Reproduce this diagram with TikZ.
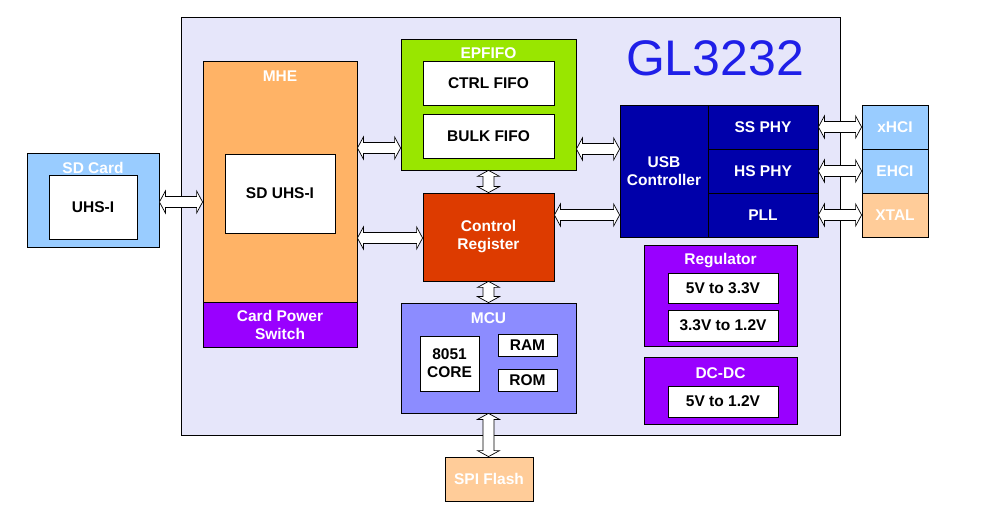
\documentclass[tikz,border=0pt]{standalone}
\usepackage{fontspec}
\setmainfont{Liberation Sans}
\usetikzlibrary{calc}
\definecolor{GLChip}{HTML}{E6E6FA}
\definecolor{GLSky}{HTML}{99CCFF}
\definecolor{GLOrange}{HTML}{FFB366}
\definecolor{GLPurple}{HTML}{9900FF}
\definecolor{GLGreen}{HTML}{99E600}
\definecolor{GLRed}{HTML}{DD3B00}
\definecolor{GLPeri}{HTML}{8C8CFF}
\definecolor{GLNavy}{HTML}{0000AA}
\definecolor{GLPeach}{HTML}{FFCC99}
\definecolor{GLInk}{HTML}{1F1FE8}
\tikzset{
  box/.style={draw=black,line width=0.8pt,inner sep=0pt,align=center,
              font=\fontsize{15.5}{18}\selectfont\bfseries},
  whitebox/.style={box,fill=white,text=black},
  colbox/.style={box,text=white},
  head/.style={text=white,inner sep=0pt,font=\fontsize{15.5}{18}\selectfont\bfseries},
  bus/.style={draw=black,fill=white,line width=0.7pt,line join=miter},
}
% double block arrows between anchors
\newcommand\hbus[2]{\path[bus] let \p1=(#1),\p2=(#2) in
  (\x1,\y1)--(\x1+6pt,\y1+11pt)--(\x1+6pt,\y1+5.5pt)--(\x2-6pt,\y1+5.5pt)--(\x2-6pt,\y1+11pt)
  --(\x2,\y1)--(\x2-6pt,\y1-11pt)--(\x2-6pt,\y1-5.5pt)--(\x1+6pt,\y1-5.5pt)--(\x1+6pt,\y1-11pt)--cycle;}
\newcommand\vbus[2]{\path[bus] let \p1=(#1),\p2=(#2) in
  (\x1,\y1)--(\x1+11pt,\y1-6pt)--(\x1+5.5pt,\y1-6pt)--(\x1+5.5pt,\y2+6pt)--(\x1+11pt,\y2+6pt)
  --(\x1,\y2)--(\x1-11pt,\y2+6pt)--(\x1-5.5pt,\y2+6pt)--(\x1-5.5pt,\y1-6pt)--(\x1-11pt,\y1-6pt)--cycle;}

\begin{document}
\begin{tikzpicture}[x=1pt,y=-1pt]
  \useasboundingbox (0,0) rectangle (982,510);
  \node[box,fill=GLChip,minimum width=659,minimum height=418] (chip) at (510.5,226) {};
  \node[text=GLInk,inner sep=0pt,font=\fontsize{50}{50}\selectfont] (name) at (715,58) {GL3232};

  \node[box,fill=GLSky,minimum width=132,minimum height=94] (sdcard) at (93,200) {};
  \node[head] (sdhead) at (93,168) {SD Card};
  \node[whitebox,minimum width=88,minimum height=64] (uhs) at (93,207) {UHS-I};

  \node[box,fill=GLOrange,minimum width=154,minimum height=241] (mhe) at (280,181.5) {};
  \node[head] (mhehead) at (280,76) {MHE};
  \node[whitebox,minimum width=110,minimum height=79] (sduhs) at (280,193.5) {SD UHS-I};
  \node[colbox,fill=GLPurple,minimum width=154,minimum height=45] (cps) at (280,324.5) {Card Power\\Switch};

  \node[box,fill=GLGreen,minimum width=175,minimum height=131] (epfifo) at (488.5,104.5) {};
  \node[head] (ephead) at (488.5,53) {EPFIFO};
  \node[whitebox,minimum width=131,minimum height=44] (ctrl) at (488.5,83) {CTRL FIFO};
  \node[whitebox,minimum width=131,minimum height=44] (bulk) at (488.5,136) {BULK FIFO};

  \node[colbox,fill=GLRed,minimum width=131,minimum height=88] (creg) at (488.5,237) {Control\\Register};

  \node[box,fill=GLPeri,minimum width=175,minimum height=110] (mcu) at (488.5,358) {};
  \node[head] (mcuhead) at (488.5,318) {MCU};
  \node[whitebox,minimum width=59,minimum height=55] (core) at (449.5,363.5) {8051\\CORE};
  \node[whitebox,minimum width=59,minimum height=22] (ram) at (527.5,345) {RAM};
  \node[whitebox,minimum width=59,minimum height=22] (rom) at (527.5,380) {ROM};

  \node[colbox,fill=GLPeach,minimum width=88,minimum height=44] (spi) at (489,479) {SPI Flash};

  \node[colbox,fill=GLNavy,minimum width=88,minimum height=132] (usb) at (664,171) {USB\\Controller};
  \node[colbox,fill=GLNavy,minimum width=110,minimum height=44] (ssphy) at (763,127) {SS PHY};
  \node[colbox,fill=GLNavy,minimum width=110,minimum height=44] (hsphy) at (763,171) {HS PHY};
  \node[colbox,fill=GLNavy,minimum width=110,minimum height=44] (pll) at (763,215) {PLL};

  \node[colbox,fill=GLSky,minimum width=66,minimum height=44] (xhci) at (895,127) {xHCI};
  \node[colbox,fill=GLSky,minimum width=66,minimum height=44] (ehci) at (895,171) {EHCI};
  \node[colbox,fill=GLPeach,minimum width=66,minimum height=44] (xtal) at (895,215) {XTAL};

  \node[box,fill=GLPurple,minimum width=153,minimum height=101] (reg) at (720.5,295.5) {};
  \node[head] (reghead) at (720.5,261) {Regulator};
  \node[whitebox,minimum width=110,minimum height=30] (rega) at (723,288) {5V to 3.3V};
  \node[whitebox,minimum width=110,minimum height=31] (regb) at (723,325.5) {3.3V to 1.2V};

  \node[box,fill=GLPurple,minimum width=153,minimum height=67] (dcdc) at (720.5,390.5) {};
  \node[head] (dchead) at (720.5,373) {DC-DC};
  \node[whitebox,minimum width=110,minimum height=31] (dca) at (723,401.5) {5V to 1.2V};

  \hbus{[yshift=-2pt]sdcard.east}{mhe.west}
  \hbus{[yshift=33.5pt]mhe.east}{epfifo.west}
  \hbus{[yshift=-56.5pt]mhe.east}{creg.west}
  \hbus{[yshift=-44.5pt]epfifo.east}{usb.west}
  \hbus{[yshift=22pt]creg.east}{usb.west}
  \hbus{ssphy.east}{xhci.west}
  \hbus{hsphy.east}{ehci.west}
  \hbus{pll.east}{xtal.west}
  \vbus{epfifo.south}{creg.north}
  \vbus{creg.south}{mcu.north}
  \vbus{mcu.south}{spi.north}
\end{tikzpicture}
\end{document}
